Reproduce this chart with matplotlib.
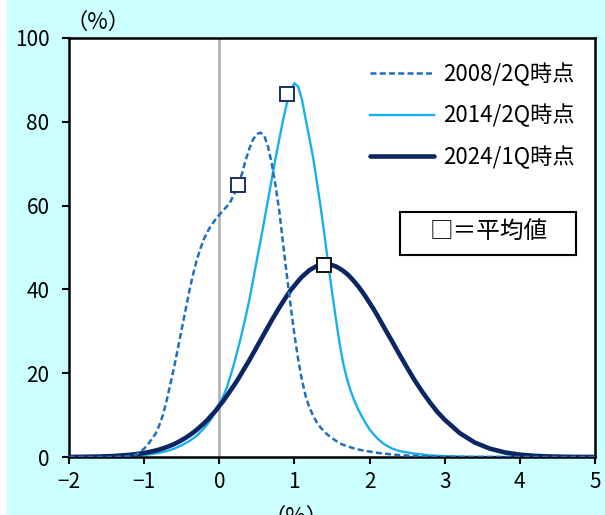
import matplotlib
matplotlib.use("Agg")
import matplotlib.pyplot as plt
from matplotlib.patches import Rectangle

plt.rcParams['font.family'] = ['Noto Sans CJK JP', 'DejaVu Sans']

# horizontal grid (%), finer where the curves bend
x = [-2.0, -1.8, -1.6, -1.4, -1.2, -1.1, -1.0,
     -0.95, -0.9, -0.85, -0.8, -0.75, -0.7, -0.65, -0.6, -0.55, -0.5,
     -0.45, -0.4, -0.35, -0.3, -0.25, -0.2, -0.15, -0.1, -0.05,
     0.0, 0.05, 0.1, 0.15, 0.2, 0.25, 0.3, 0.35, 0.4, 0.45,
     0.5, 0.55, 0.6, 0.65, 0.7, 0.75, 0.8, 0.85, 0.9, 0.95,
     1.0, 1.05, 1.1, 1.15, 1.2, 1.25, 1.3, 1.35, 1.4, 1.45,
     1.5, 1.55, 1.6, 1.65, 1.7, 1.75, 1.8, 1.85, 1.9, 1.95,
     2.0, 2.05, 2.1, 2.15, 2.2,
     2.3, 2.4, 2.5, 2.6, 2.7, 2.8, 2.9, 3.0,
     3.2, 3.4, 3.6, 3.8, 4.0, 4.2, 4.4, 4.6, 4.8, 5.0]

dist_2008 = [0.0, 0.0, 0.0, 0.0, 0.2, 0.6, 2.0,
             3.0, 4.2, 5.5, 7.5, 10.0, 13.5, 17.5, 21.5, 26.0, 30.5,
             35.0, 39.5, 43.5, 47.0, 49.8, 52.2, 54.0, 55.5, 56.7,
             57.8, 58.8, 59.8, 61.0, 62.8, 64.9, 67.5, 70.8, 73.6, 75.8,
             77.1, 77.4, 76.6, 74.0, 69.8, 64.6, 58.5, 50.8, 43.2, 36.0,
             29.2, 23.3, 18.4, 14.5, 11.8, 9.8, 8.2, 7.0, 6.0, 5.2,
             4.5, 3.9, 3.3, 2.9, 2.6, 2.3, 2.0, 1.8, 1.6, 1.45,
             1.3, 1.15, 1.0, 0.9, 0.8,
             0.6, 0.45, 0.35, 0.25, 0.2, 0.15, 0.1, 0.08,
             0.03, 0.01, 0.0, 0.0, 0.0, 0.0, 0.0, 0.0, 0.0, 0.0]

dist_2014 = [0.0, 0.01, 0.04, 0.1, 0.22, 0.33, 0.5,
             0.6, 0.7, 0.85, 1.0, 1.2, 1.4, 1.7, 2.0, 2.4, 2.8,
             3.3, 3.8, 4.4, 5.1, 6.0, 6.9, 8.0, 9.3, 10.8,
             12.4, 14.4, 16.6, 19.4, 22.5, 25.9, 29.5, 33.4, 37.5, 42.2,
             47.0, 51.7, 56.5, 61.5, 66.5, 71.4, 76.0, 80.5, 84.5, 87.6,
             89.2, 88.4, 85.3, 80.6, 76.0, 71.3, 65.5, 59.5, 53.0, 46.0,
             39.5, 33.2, 27.2, 22.3, 18.6, 15.7, 13.3, 11.3, 9.6, 8.0,
             6.6, 5.5, 4.5, 3.7, 3.0,
             2.0, 1.4, 1.1, 0.8, 0.6, 0.4, 0.3, 0.2,
             0.1, 0.05, 0.02, 0.01, 0.0, 0.0, 0.0, 0.0, 0.0, 0.0]

dist_2024 = [0.02, 0.05, 0.11, 0.24, 0.5, 0.7, 0.96,
             1.13, 1.32, 1.53, 1.78, 2.05, 2.37, 2.71, 3.1, 3.54, 4.03,
             4.57, 5.15, 5.8, 6.5, 7.3, 8.1, 9.0, 10.0, 11.0,
             12.2, 13.3, 14.6, 15.9, 17.2, 18.6, 20.1, 21.6, 23.1, 24.7,
             26.3, 27.9, 29.5, 31.1, 32.7, 34.2, 35.7, 37.1, 38.5, 39.8,
             40.9, 42.0, 43.0, 43.8, 44.6, 45.1, 45.6, 45.85, 46.0, 46.0,
             45.8, 45.5, 45.0, 44.4, 43.7, 42.8, 41.8, 40.7, 39.5, 38.2,
             36.8, 35.4, 33.9, 32.3, 30.7,
             27.6, 24.4, 21.3, 18.3, 15.6, 13.1, 10.8, 8.9,
             5.7, 3.45, 2.0, 1.09, 0.56, 0.27, 0.12, 0.05, 0.02, 0.01]

# averages shown as square markers
mean_x = [0.25, 0.9, 1.4]
mean_y = [64.9, 86.6, 45.8]

labels = ['2008/2Q時点', '2014/2Q時点', '2024/1Q時点']
c2008 = '#1f6fbf'
c2014 = '#17b0ec'
c2024 = '#0b2663'

fig = plt.figure(figsize=(6.05, 5.15), dpi=100)
fig.patch.set_facecolor('#ccffff')
# thin white strip on the left edge
fig.patches.append(Rectangle((0, 0), 7 / 605, 1, transform=fig.transFigure,
                             facecolor='white', edgecolor='none'))

ax = fig.add_axes([69 / 605, 1 - 457 / 515, 526 / 605, 419 / 515])
ax.set_facecolor('white')

ax.axvline(0, color='#b4b4b4', lw=2, zorder=1)

ln14, = ax.plot(x, dist_2014, color=c2014, lw=1.7, zorder=2, label=labels[1])
ln24, = ax.plot(x, dist_2024, color=c2024, lw=3.3, zorder=3, label=labels[2],
                solid_capstyle='round', solid_joinstyle='round')
ln08, = ax.plot(x, dist_2008, color=c2008, lw=1.8, ls=(0, (2.4, 1.3)), zorder=4,
                label=labels[0])

edge_cols = ['#1c2d66', '#1c2d66', '#111111']
for mx, my, ec in zip(mean_x, mean_y, edge_cols):
    ax.plot(mx, my, marker='s', ms=10, mfc='white', mec=ec, mew=1.4, zorder=5,
            clip_on=False)

ax.set_xlim(-2, 5)
ax.set_ylim(0, 100)
ax.set_xticks(range(-2, 6))
ax.set_yticks(range(0, 101, 20))
for s in ax.spines.values():
    s.set_linewidth(1.8)
    s.set_color('black')
ax.tick_params(axis='both', direction='out', length=5, width=1.5,
               labelsize=15, colors='black')
ax.tick_params(axis='y', pad=9)
ax.tick_params(axis='x', pad=5)

leg = ax.legend(handles=[ln08, ln14, ln24], loc='upper right',
                bbox_to_anchor=(1.0, 0.99), frameon=False, fontsize=16,
                handlelength=2.9, handletextpad=0.4, labelspacing=0.82)

# box explaining the markers
ax.add_patch(Rectangle((0.629, 0.482), 0.335, 0.103, transform=ax.transAxes,
                       facecolor='white', edgecolor='black', lw=1.5, zorder=6))
ax.text(0.797, 0.535, '□＝平均値', transform=ax.transAxes, ha='center',
        va='center', fontsize=17, zorder=7)

fig.text(98 / 605, 1 - 22 / 515, '（%）', ha='center', va='center', fontsize=16)
fig.text(296 / 605, 0.017, '（%）', ha='center', va='top', fontsize=16)

fig.savefig('out.png', dpi=100, facecolor=fig.get_facecolor())
